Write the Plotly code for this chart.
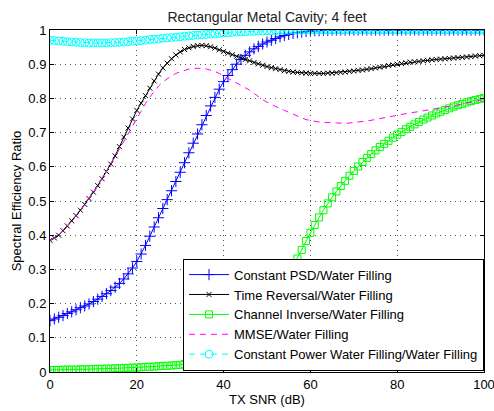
import plotly.graph_objects as go

snr_db = list(range(0, 101))

const_psd = [
    0.150, 0.155, 0.160, 0.165, 0.171, 0.176, 0.182, 0.188, 0.193, 0.199,
    0.206, 0.213, 0.221, 0.229, 0.238, 0.248, 0.259, 0.272, 0.287, 0.304,
    0.323, 0.345, 0.370, 0.397, 0.424, 0.451, 0.478, 0.504, 0.530, 0.557,
    0.584, 0.612, 0.641, 0.669, 0.696, 0.723, 0.750, 0.778, 0.803, 0.827,
    0.849, 0.867, 0.884, 0.900, 0.914, 0.926, 0.936, 0.945, 0.952, 0.959,
    0.965, 0.970, 0.975, 0.980, 0.984, 0.987, 0.990, 0.992, 0.994, 0.996,
    0.997, 0.998, 0.998, 0.999, 0.999, 1.000, 1.000, 1.000, 1.000, 1.000,
    1.000, 1.000, 1.000, 1.000, 1.000, 1.000, 1.000, 1.000, 1.000, 1.000,
    1.000, 1.000, 1.000, 1.000, 1.000, 1.000, 1.000, 1.000, 1.000, 1.000,
    1.000, 1.000, 1.000, 1.000, 1.000, 1.000, 1.000, 1.000, 1.000, 1.000,
    1.000,
]

time_reversal = [
    0.385, 0.392, 0.400, 0.413, 0.427, 0.442, 0.457, 0.473, 0.490, 0.507,
    0.526, 0.545, 0.565, 0.586, 0.608, 0.632, 0.659, 0.687, 0.713, 0.740,
    0.765, 0.786, 0.808, 0.830, 0.851, 0.871, 0.889, 0.903, 0.916, 0.927,
    0.936, 0.943, 0.948, 0.952, 0.954, 0.955, 0.954, 0.951, 0.947, 0.942,
    0.937, 0.932, 0.928, 0.923, 0.919, 0.914, 0.910, 0.905, 0.901, 0.897,
    0.893, 0.890, 0.887, 0.884, 0.881, 0.879, 0.877, 0.876, 0.875, 0.874,
    0.873, 0.873, 0.873, 0.873, 0.874, 0.874, 0.875, 0.876, 0.877, 0.879,
    0.880, 0.882, 0.883, 0.885, 0.887, 0.889, 0.891, 0.893, 0.896, 0.898,
    0.900, 0.902, 0.904, 0.906, 0.907, 0.908, 0.910, 0.911, 0.913, 0.914,
    0.915, 0.916, 0.917, 0.918, 0.919, 0.920, 0.921, 0.922, 0.924, 0.925,
    0.926,
]

channel_inverse = [
    0.006, 0.006, 0.006, 0.007, 0.007, 0.007, 0.007, 0.008, 0.008, 0.008,
    0.009, 0.009, 0.009, 0.010, 0.010, 0.011, 0.011, 0.012, 0.012, 0.013,
    0.013, 0.014, 0.015, 0.015, 0.016, 0.017, 0.018, 0.018, 0.019, 0.020,
    0.021, 0.023, 0.025, 0.027, 0.030, 0.033, 0.037, 0.041, 0.046, 0.052,
    0.059, 0.066, 0.074, 0.083, 0.094, 0.106, 0.119, 0.133, 0.148, 0.164,
    0.182, 0.201, 0.221, 0.242, 0.264, 0.287, 0.308, 0.332, 0.357, 0.383,
    0.407, 0.430, 0.452, 0.473, 0.493, 0.511, 0.528, 0.544, 0.559, 0.574,
    0.588, 0.601, 0.614, 0.626, 0.637, 0.648, 0.658, 0.667, 0.676, 0.685,
    0.694, 0.702, 0.710, 0.717, 0.724, 0.731, 0.738, 0.744, 0.750, 0.756,
    0.761, 0.766, 0.771, 0.776, 0.780, 0.784, 0.788, 0.792, 0.795, 0.798,
    0.801,
]

mmse = [
    0.385, 0.392, 0.400, 0.413, 0.427, 0.442, 0.457, 0.473, 0.490, 0.507,
    0.526, 0.545, 0.565, 0.586, 0.608, 0.630, 0.652, 0.675, 0.699, 0.721,
    0.742, 0.764, 0.785, 0.804, 0.821, 0.836, 0.848, 0.858, 0.866, 0.873,
    0.878, 0.883, 0.886, 0.888, 0.889, 0.888, 0.886, 0.883, 0.879, 0.873,
    0.866, 0.860, 0.853, 0.846, 0.839, 0.832, 0.824, 0.815, 0.805, 0.796,
    0.789, 0.782, 0.776, 0.770, 0.765, 0.759, 0.754, 0.748, 0.743, 0.738,
    0.735, 0.733, 0.731, 0.730, 0.729, 0.728, 0.727, 0.727, 0.727, 0.728,
    0.729, 0.730, 0.732, 0.734, 0.736, 0.738, 0.740, 0.743, 0.745, 0.748,
    0.751, 0.753, 0.755, 0.757, 0.759, 0.761, 0.763, 0.765, 0.767, 0.769,
    0.771, 0.774, 0.776, 0.778, 0.780, 0.783, 0.786, 0.788, 0.791, 0.794,
    0.797,
]

const_power_wf = [
    0.970, 0.969, 0.968, 0.967, 0.966, 0.965, 0.964, 0.963, 0.963, 0.962,
    0.962, 0.962, 0.962, 0.962, 0.963, 0.963, 0.964, 0.965, 0.966, 0.967,
    0.968, 0.969, 0.970, 0.972, 0.973, 0.974, 0.976, 0.977, 0.978, 0.979,
    0.980, 0.982, 0.983, 0.984, 0.985, 0.986, 0.987, 0.988, 0.989, 0.990,
    0.991, 0.992, 0.993, 0.994, 0.994, 0.995, 0.996, 0.996, 0.997, 0.997,
    0.998, 0.998, 0.998, 0.999, 0.999, 0.999, 1.000, 1.000, 1.000, 1.000,
    1.000, 1.000, 1.000, 1.000, 1.000, 1.000, 1.000, 1.000, 1.000, 1.000,
    1.000, 1.000, 1.000, 1.000, 1.000, 1.000, 1.000, 1.000, 1.000, 1.000,
    1.000, 1.000, 1.000, 1.000, 1.000, 1.000, 1.000, 1.000, 1.000, 1.000,
    1.000, 1.000, 1.000, 1.000, 1.000, 1.000, 1.000, 1.000, 1.000, 1.000,
    1.000,
]

names = [
    "Constant PSD/Water Filling",
    "Time Reversal/Water Filling",
    "Channel Inverse/Water Filling",
    "MMSE/Water Filling",
    "Constant Power Water Filling/Water Filling",
]

fig = go.Figure()
fig.add_trace(go.Scatter(
    x=snr_db, y=const_psd, name=names[0], mode="lines+markers",
    line=dict(color="#0000FF", width=1),
    marker=dict(symbol="cross-thin-open", size=8, color="#0000FF",
                line=dict(color="#0000FF", width=1)),
))
fig.add_trace(go.Scatter(
    x=snr_db, y=time_reversal, name=names[1], mode="lines+markers",
    line=dict(color="#000000", width=1),
    marker=dict(symbol="x-thin-open", size=5, color="#000000",
                line=dict(color="#000000", width=1)),
))
fig.add_trace(go.Scatter(
    x=snr_db, y=channel_inverse, name=names[2], mode="lines+markers",
    line=dict(color="#00FF00", width=1),
    marker=dict(symbol="square-open", size=7, color="#00FF00",
                line=dict(color="#00FF00", width=1)),
))
fig.add_trace(go.Scatter(
    x=snr_db, y=mmse, name=names[3], mode="lines",
    line=dict(color="#FF00FF", width=1, dash="6px,5px"),
))
fig.add_trace(go.Scatter(
    x=snr_db, y=const_power_wf, name=names[4], mode="lines+markers",
    line=dict(color="#00FFFF", width=1, dash="6px,5px"),
    marker=dict(symbol="circle-open", size=8, color="#00FFFF",
                line=dict(color="#00FFFF", width=1)),
))

axis_common = dict(
    showline=True, linecolor="black", linewidth=1, mirror="ticks",
    ticks="inside", ticklen=4, tickcolor="black", tickwidth=1,
    showgrid=True, gridcolor="#555555", gridwidth=1, griddash="1px,4px",
    zeroline=False, tickfont=dict(size=13, color="black"),
    automargin=False, ticklabeloverflow="allow",
)

fig.update_layout(
    width=494, height=411,
    margin=dict(l=50, r=10, t=30, b=39),
    paper_bgcolor="white", plot_bgcolor="white",
    font=dict(family="Liberation Sans, Arial, sans-serif", size=13, color="black"),
    title=dict(text="Rectangular Metal Cavity; 4 feet", x=0.5, xref="paper",
               xanchor="center", y=1, yref="paper", yanchor="bottom",
               pad=dict(b=8), font=dict(size=14, color="#222222")),
    xaxis=dict(range=[0, 100], tickvals=[0, 20, 40, 60, 80, 100],
               title=dict(text="TX SNR (dB)", standoff=4, font=dict(size=13)),
               **axis_common),
    yaxis=dict(range=[0, 1], tickvals=[0, 0.1, 0.2, 0.3, 0.4, 0.5, 0.6, 0.7, 0.8, 0.9, 1],
               ticktext=["0", "0.1", "0.2", "0.3", "0.4", "0.5", "0.6", "0.7", "0.8", "0.9", "1"],
               title=dict(text="Spectral Efficiency Ratio", standoff=3, font=dict(size=13)),
               **axis_common),
    legend=dict(x=1, xanchor="right", y=0.004, yanchor="bottom",
                bgcolor="white", bordercolor="black", borderwidth=1,
                font=dict(size=13), tracegroupgap=0, itemwidth=40),
    showlegend=True,
)

fig.write_html("out.html")
